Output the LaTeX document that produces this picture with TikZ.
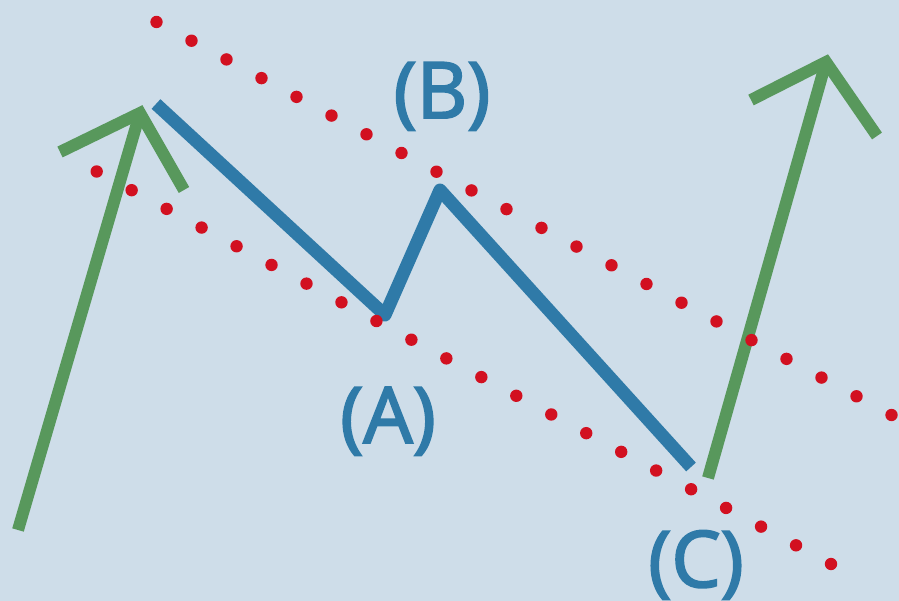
\documentclass[tikz,border=0pt]{standalone}
\usepackage{fontspec}
\setmainfont{Open Sans}
\newfontfamily\lblfont{Open Sans}[FakeBold=2.5]
\usetikzlibrary{calc}
\definecolor{bgc}{RGB}{206,221,233}
\definecolor{grn}{RGB}{88,152,92}
\definecolor{blu}{RGB}{47,122,168}
\definecolor{rdot}{RGB}{210,16,32}
\tikzset{
  greenline/.style={draw=grn, line width=12pt, line cap=butt, line join=miter},
  blueline/.style={draw=blu, line width=13pt, line cap=butt, line join=round},
  reddot/.style={fill=rdot},
  wavelabel/.style={text=blu, font=\lblfont\fontsize{78}{80}\selectfont, inner sep=0pt, anchor=base}
}
\begin{document}
\begin{tikzpicture}[x=1pt,y=-1pt]
\fill[bgc] (0,0) rectangle (899,601);
\useasboundingbox (0,0) rectangle (899,601);
% blue zigzag
\coordinate (s0) at (156,104);
\coordinate (pa) at (385,315);
\coordinate (pb) at (440,190);
\coordinate (pc) at (691,467);
\draw[blueline] (s0) -- (pa) -- (pb) -- (pc);
% left green arrow
\coordinate (g1) at (18,530);
\coordinate (g1t) at (140,113);
\coordinate (g1l) at (60,152);
\coordinate (g1r) at (184,190);
\draw[greenline] (g1) -- (g1t);
\draw[greenline] (g1l) -- (g1t) -- (g1r);
% right green arrow
\coordinate (g2) at (708,478);
\coordinate (g2t) at (826,62);
\coordinate (g2l) at (751,100);
\coordinate (g2r) at (877,136);
\draw[greenline] (g2) -- (g2t);
\draw[greenline] (g2l) -- (g2t) -- (g2r);
% channel lines (dotted)
\coordinate (u1) at (156.5,22);
\coordinate (u2) at (891.5,415);
\coordinate (l1) at (96.7,171.5);
\coordinate (l2) at (831,564);
\foreach \i in {0,...,21}{
  \fill[reddot] ($(u1)!\i/21!(u2)$) circle (6.2);
  \fill[reddot] ($(l1)!\i/21!(l2)$) circle (6.2);
}
% labels
\node[wavelabel] (lb) at (442,118) {(B)};
\node[wavelabel] (la) at (388,443) {(A)};
\node[wavelabel] (lc) at (696,587) {(C)};
\end{tikzpicture}
\end{document}
